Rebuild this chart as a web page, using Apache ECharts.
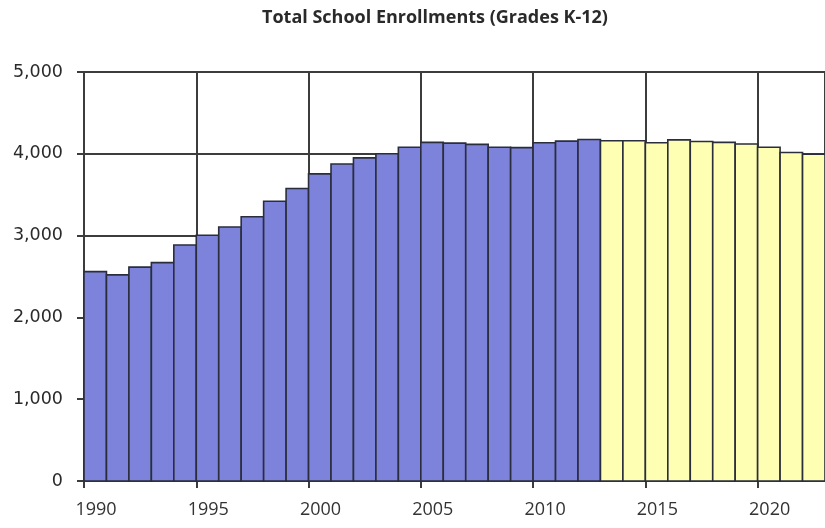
<!DOCTYPE html>
<html>
<head>
<meta charset="utf-8">
<title>Total School Enrollments (Grades K-12)</title>
<script src="https://cdn.jsdelivr.net/npm/echarts@6/dist/echarts.min.js"></script>
<style>
  html, body { margin: 0; padding: 0; background: #ffffff; }
  #chart { width: 825px; height: 528px; }
</style>
</head>
<body>
<div id="chart"></div>
<script>
// Historical enrollment counts, one bar per school year
const actualYears = [1990, 1991, 1992, 1993, 1994, 1995, 1996, 1997, 1998, 1999, 2000,
  2001, 2002, 2003, 2004, 2005, 2006, 2007, 2008, 2009, 2010, 2011, 2012];
const actualValues = [2560, 2520, 2615, 2670, 2885, 3005, 3105, 3230, 3420, 3575, 3755,
  3875, 3950, 4000, 4080, 4140, 4130, 4115, 4080, 4075, 4135, 4155, 4175];

// Projected enrollment counts
const projectedYears = [2013, 2014, 2015, 2016, 2017, 2018, 2019, 2020, 2021, 2022];
const projectedValues = [4160, 4160, 4135, 4170, 4150, 4140, 4120, 4080, 4015, 3995];

// Axis ticks
const yearTicks = [1990, 1995, 2000, 2005, 2010, 2015, 2020];
const enrollmentTicks = [0, 1000, 2000, 3000, 4000, 5000];

const titleText = 'Total School Enrollments (Grades K-12)';

const actualColor = '#7d82da';
const projectedColor = '#ffffb4';
const outline = '#2a2e3c';
const gridColor = '#3c3c3c';

function pairs(xs, ys) {
  return xs.map((x, i) => [x, ys[i]]);
}

// Each bar spans a full year: [year, year + 1]
function yearBar(fill) {
  return function (params, api) {
    const year = api.value(0);
    const value = api.value(1);
    const base = api.coord([year, 0]);
    const top = api.coord([year + 1, value]);
    return {
      type: 'rect',
      shape: {
        x: base[0],
        y: top[1],
        width: top[0] - base[0],
        height: base[1] - top[1]
      },
      style: { fill: fill, stroke: outline, lineWidth: 1.6 }
    };
  };
}

const chart = echarts.init(document.getElementById('chart'), null, { renderer: 'canvas' });

chart.setOption({
  animation: false,
  backgroundColor: '#ffffff',
  title: {
    text: titleText,
    left: 257,
    top: 4,
    textStyle: {
      fontFamily: 'Open Sans',
      fontWeight: 'bold',
      fontSize: 18,
      color: '#2a2a2a'
    }
  },
  grid: { left: 84, right: -7, top: 72, bottom: 47 },
  xAxis: {
    type: 'value',
    min: yearTicks[0],
    max: 2023,
    interval: 5,
    axisLine: { show: true, lineStyle: { color: gridColor, width: 2 } },
    axisTick: { show: true, length: 7, lineStyle: { color: gridColor, width: 2 } },
    splitLine: { show: true, lineStyle: { color: gridColor, width: 2 } },
    axisLabel: {
      showMaxLabel: false,
      margin: 20,
      padding: [0, 0, 0, 24],
      fontFamily: 'Open Sans',
      fontSize: 18,
      color: '#333333',
      formatter: function (v) { return yearTicks.indexOf(v) >= 0 ? String(v) : ''; }
    }
  },
  yAxis: {
    type: 'value',
    min: enrollmentTicks[0],
    max: enrollmentTicks[enrollmentTicks.length - 1],
    interval: 1000,
    axisLine: { show: true, lineStyle: { color: gridColor, width: 2 } },
    axisTick: { show: true, length: 7, lineStyle: { color: gridColor, width: 2 } },
    splitLine: { show: true, lineStyle: { color: gridColor, width: 2 } },
    axisLabel: {
      margin: 21,
      fontFamily: 'DejaVu Sans',
      fontSize: 17.5,
      color: '#2a2a2a',
      formatter: function (v) { return v.toLocaleString('en-US'); }
    }
  },
  series: [
    {
      name: 'Actual',
      type: 'custom',
      renderItem: yearBar(actualColor),
      encode: { x: 0, y: 1 },
      data: pairs(actualYears, actualValues)
    },
    {
      name: 'Projected',
      type: 'custom',
      renderItem: yearBar(projectedColor),
      encode: { x: 0, y: 1 },
      data: pairs(projectedYears, projectedValues)
    }
  ]
});
</script>
</body>
</html>
